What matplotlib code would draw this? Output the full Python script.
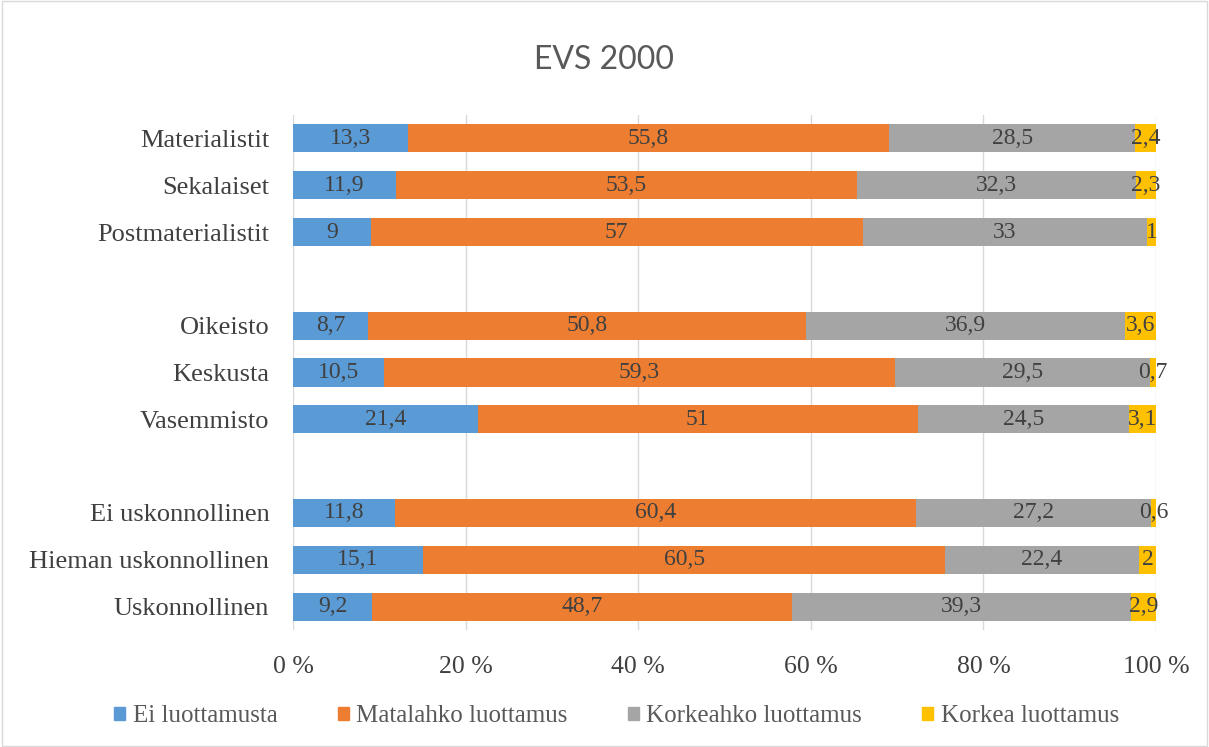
import matplotlib.pyplot as plt
from matplotlib.patches import Rectangle

# Data (top to bottom as shown in the chart)
groups = ["Materialistit", "Sekalaiset", "Postmaterialistit", "",
          "Oikeisto", "Keskusta", "Vasemmisto", "",
          "Ei uskonnollinen", "Hieman uskonnollinen", "Uskonnollinen"]
ei_luottamusta = [13.3, 11.9, 9, None, 8.7, 10.5, 21.4, None, 11.8, 15.1, 9.2]
matalahko = [55.8, 53.5, 57, None, 50.8, 59.3, 51, None, 60.4, 60.5, 48.7]
korkeahko = [28.5, 32.3, 33, None, 36.9, 29.5, 24.5, None, 27.2, 22.4, 39.3]
korkea = [2.4, 2.3, 1, None, 3.6, 0.7, 3.1, None, 0.6, 2, 2.9]

series_names = ["Ei luottamusta", "Matalahko luottamus", "Korkeahko luottamus", "Korkea luottamus"]
colors = ["#5B9BD5", "#ED7D31", "#A5A5A5", "#FFC000"]

serif = "Liberation Serif"
txt_col = "#404040"

fig = plt.figure(figsize=(12.09, 7.47), dpi=100)
fig.patches.append(Rectangle((0.002, 0.002), 0.996, 0.996, transform=fig.transFigure,
                             fill=False, edgecolor="#D9D9D9", linewidth=1))
ax = fig.add_axes([0.2423, 0.1566, 0.7139, 0.6895])

n = len(groups)
ypos = [n - 1 - i for i in range(n)]
all_series = [ei_luottamusta, matalahko, korkeahko, korkea]

for i in range(n):
    if ei_luottamusta[i] is None:
        continue
    vals = [s[i] for s in all_series]
    tot = sum(vals)
    left = 0
    for v, c in zip(vals, colors):
        w = v / tot * 100
        ax.barh(ypos[i], w, left=left, height=0.6, color=c, zorder=2)
        lab = ("%g" % v).replace(".", ",")
        ax.text(left + w / 2, ypos[i], lab, ha="center", va="center",
                fontsize=17, family=serif, color=txt_col, zorder=3)
        left += w

ax.set_xlim(0, 100)
ax.set_ylim(-0.5, n - 0.5)
ax.set_yticks(ypos)
ax.set_yticklabels(groups, family=serif, fontsize=19, color=txt_col)
ax.set_xticks([0, 20, 40, 60, 80, 100])
ax.set_xticklabels(["%d %%" % t for t in [0, 20, 40, 60, 80, 100]],
                   family=serif, fontsize=18.5, color=txt_col)
ax.tick_params(length=0)
ax.tick_params(axis="x", pad=19)
ax.tick_params(axis="y", pad=17)
ax.grid(axis="x", color="#D9D9D9", linewidth=1, zorder=0)
for s in ax.spines.values():
    s.set_visible(False)

fig.text(0.5, 0.92, "EVS 2000", ha="center", va="center", fontsize=23,
         family="Lato", color="#595959")

handles = [Rectangle((0, 0), 1, 1, color=c) for c in colors]
fig.legend(handles, series_names, loc="center", bbox_to_anchor=(0.51, 0.041), ncol=4,
           frameon=False, prop={"family": serif, "size": 18}, labelcolor="#595959",
           handlelength=0.45, handleheight=0.45, handletextpad=0.3, columnspacing=2.4)

fig.savefig("out.png", dpi=100)
